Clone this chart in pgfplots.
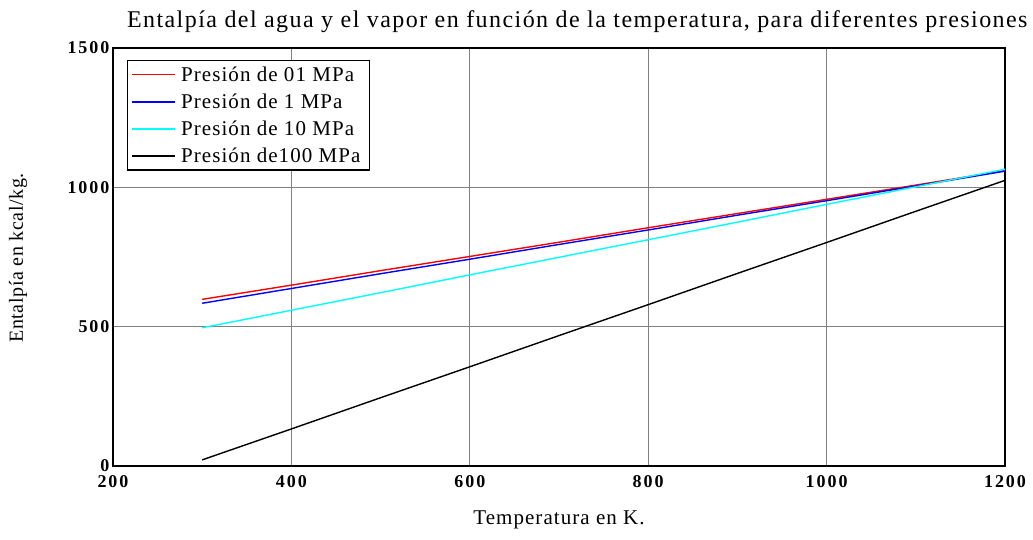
\documentclass[border=0pt]{standalone}
\usepackage{fontspec}
\setmainfont{Liberation Serif}
\usepackage{pgfplots}
\pgfplotsset{compat=1.18}
\definecolor{cy}{RGB}{0,255,255}

\begin{document}
\begin{tikzpicture}[x=1pt,y=1pt]
\path[use as bounding box] (0,0) rectangle (1033,540);
\begin{axis}[
  at={(113pt,74pt)}, anchor=south west,
  scale only axis, width=892pt, height=418pt,
  xmin=200, xmax=1200, ymin=0, ymax=1500,
  xtick={200,400,...,1200}, ytick={0,500,1000,1500},
  grid=major, grid style={draw=black!50, line width=1pt},
  axis line style={line width=1.6pt},
  major tick length=0pt,
  tick label style={font=\fontsize{18}{18}\selectfont\bfseries\addfontfeature{LetterSpace=11}},
  xticklabel style={yshift=-6pt},
  /pgf/number format/assume math mode=true,
  /pgf/number format/1000 sep={},
  xlabel={Temperatura en K.},
  xlabel style={at={(axis description cs:0.5,0)}, anchor=center, yshift=-54pt,
    font=\fontsize{21}{21}\selectfont\addfontfeature{LetterSpace=5}},
  legend style={at={(0,1)}, anchor=north west, xshift=14pt, yshift=-12pt,
    draw=black, line width=1.2pt, font=\fontsize{21}{21}\selectfont\addfontfeature{LetterSpace=5},
    row sep=7pt, inner sep=4pt, nodes={inner xsep=5pt}},
  legend cell align=left,
  legend image code/.code={\draw[#1, line width=1.6pt] (0pt,0pt) -- (43pt,0pt);},
]
\addplot[red, line width=1.4pt] coordinates {
  (300,598) (400,649) (500,701) (600,752) (700,803) (800,855)
  (900,906) (1000,957) (1100,1008) (1200,1060)};
\addlegendentry{Presión de 01 MPa}
\addplot[blue, line width=1.4pt] coordinates {
  (300,584) (400,637) (500,690) (600,742) (700,795) (800,847)
  (900,900) (1000,952) (1100,1005) (1200,1058)};
\addlegendentry{Presión de 1 MPa}
\addplot[cy, line width=1.4pt] coordinates {
  (300,496) (400,559) (500,622) (600,686) (700,749) (800,812)
  (900,875) (1000,939) (1100,1002) (1200,1065)};
\addlegendentry{Presión de 10 MPa}
\addplot[black, line width=1.4pt] coordinates {
  (300,22) (400,133) (500,245) (600,356) (700,468) (800,579)
  (900,691) (1000,802) (1100,914) (1200,1025)};
\addlegendentry{Presión de100 MPa}
\end{axis}
\node[anchor=east, font=\fontsize{24}{24}\selectfont\addfontfeature{LetterSpace=6}] at (1031,518) {Entalpía del agua y el vapor en función de la temperatura, para diferentes presiones};
\node[rotate=90, font=\fontsize{20}{20}\selectfont\addfontfeature{LetterSpace=3}] at (18,282) {Entalpía en kcal/kg.};
\end{tikzpicture}
\end{document}
